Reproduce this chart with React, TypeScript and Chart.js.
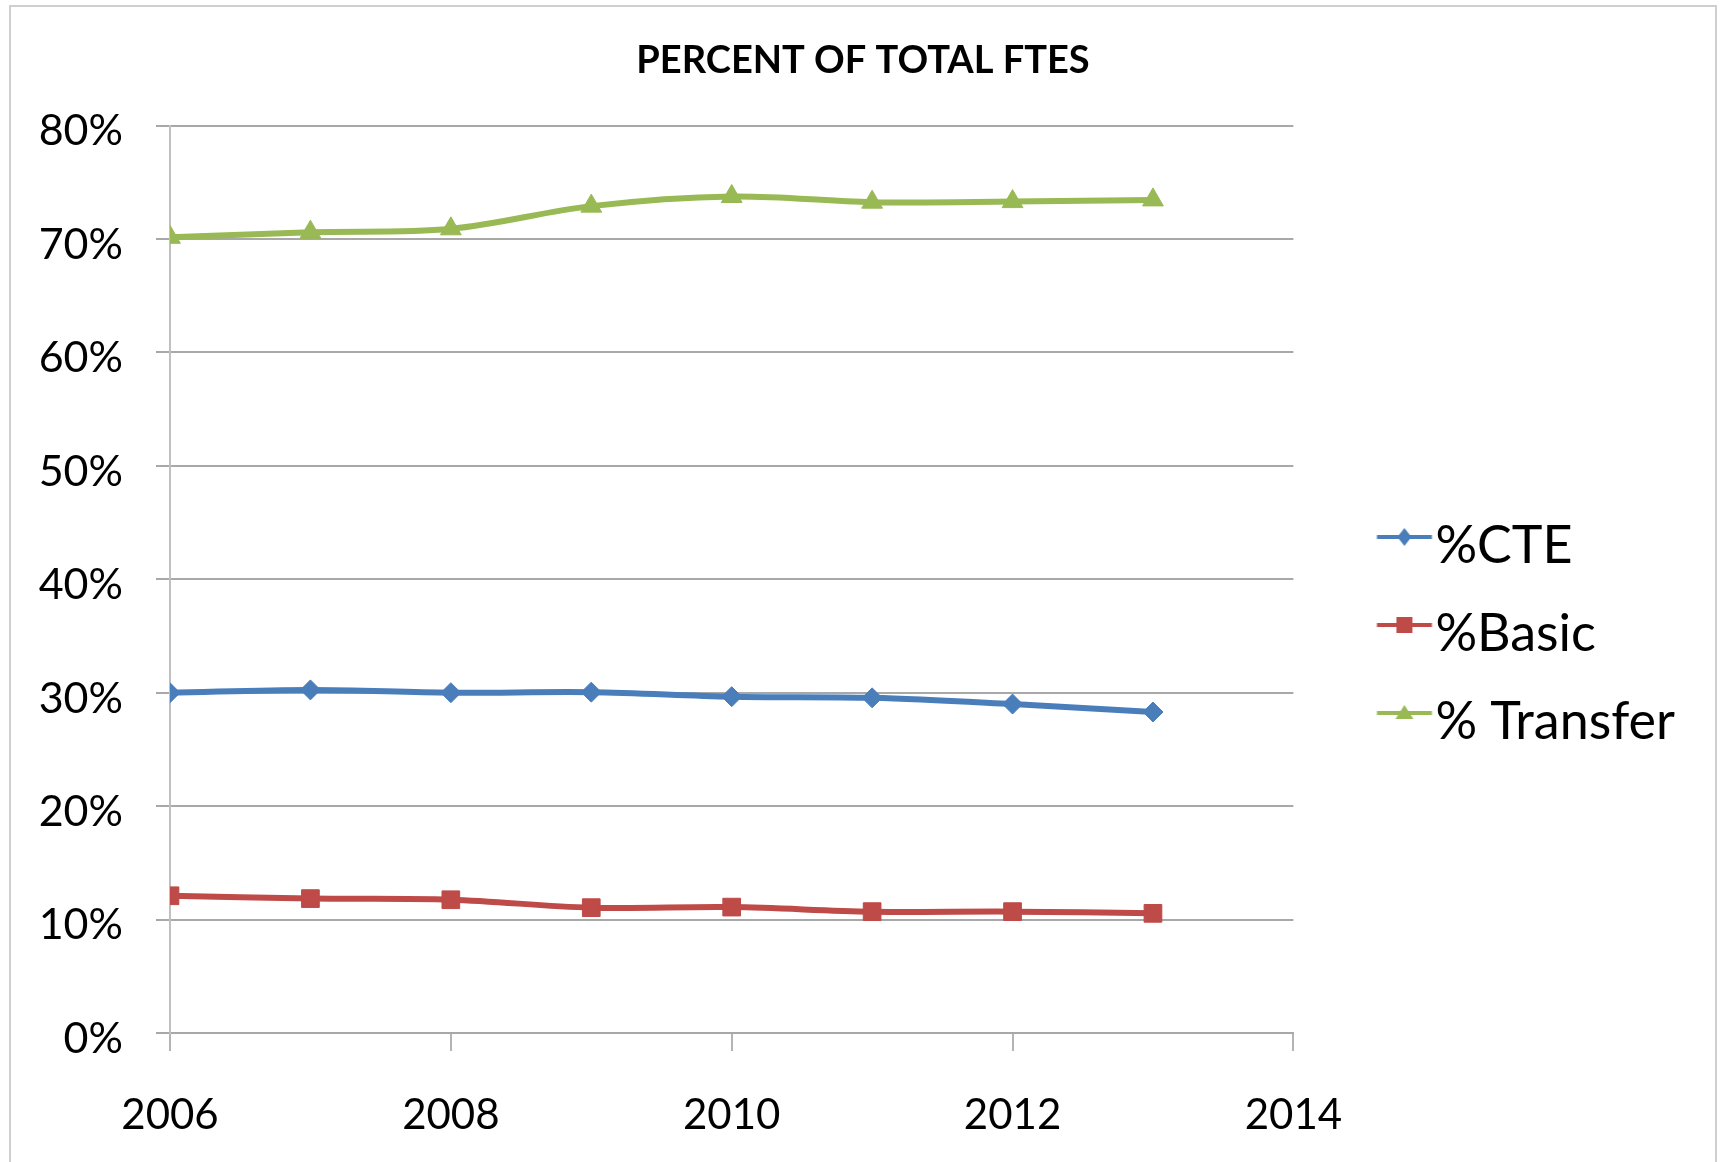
import React, { useEffect, useRef } from 'react';
import { Chart, registerables } from 'chart.js';

Chart.register(...registerables);

const chartTitle = 'PERCENT OF TOTAL FTES';
const years = [2006, 2007, 2008, 2009, 2010, 2011, 2012, 2013];
const cteValues = [30.0, 30.25, 30.0, 30.05, 29.65, 29.55, 29.0, 28.3];
const basicValues = [12.1, 11.85, 11.75, 11.05, 11.1, 10.7, 10.7, 10.55];
const transferValues = [70.15, 70.6, 70.9, 72.9, 73.75, 73.25, 73.3, 73.45];
const seriesLabels = ['%CTE', '%Basic', '% Transfer'];
const xTickValues = [2006, 2008, 2010, 2012, 2014];
const yTickValues = [0, 10, 20, 30, 40, 50, 60, 70, 80];

const BLUE = '#4A7EBB';
const RED = '#BE4B48';
const GREEN = '#98B954';

function drawShape(ctx: CanvasRenderingContext2D, shape: string, x: number, y: number) {
  ctx.beginPath();
  if (shape === 'diamond') {
    ctx.moveTo(x, y - 9);
    ctx.lineTo(x + 7, y);
    ctx.lineTo(x, y + 9);
    ctx.lineTo(x - 7, y);
  } else if (shape === 'square') {
    ctx.rect(x - 8, y - 8, 16, 16);
  } else {
    ctx.moveTo(x, y - 8);
    ctx.lineTo(x + 9, y + 6);
    ctx.lineTo(x - 9, y + 6);
  }
  ctx.closePath();
  ctx.fill();
}

function makeIcon(color: string, shape: string) {
  const c = document.createElement('canvas');
  c.width = 130;
  c.height = 40;
  const ctx = c.getContext('2d')!;
  const cy = 11;
  ctx.strokeStyle = color;
  ctx.lineWidth = 4;
  ctx.beginPath();
  ctx.moveTo(72.5, cy);
  ctx.lineTo(127.5, cy);
  ctx.stroke();
  ctx.fillStyle = color;
  drawShape(ctx, shape, 100, cy);
  return c;
}

const centerTitlePlugin = {
  id: 'centerTitle',
  afterLayout(chart: any) {
    if (chart.titleBlock) {
      chart.titleBlock.left = 0;
      chart.titleBlock.right = chart.width;
    }
  },
};

export default function App() {
  const ref = useRef<HTMLCanvasElement | null>(null);

  useEffect(() => {
    if (!ref.current) return;
    const icons = [makeIcon(BLUE, 'diamond'), makeIcon(RED, 'square'), makeIcon(GREEN, 'triangle')];
    const mk = (vals: number[]) => years.map((y, i) => ({ x: y, y: vals[i] }));
    const common = {
      borderWidth: 6,
      tension: 0.35,
      pointBorderWidth: 1,
      fill: false,
    };
    const chart = new Chart(ref.current, {
      type: 'line',
      data: {
        datasets: [
          { ...common, label: seriesLabels[0], data: mk(cteValues), borderColor: BLUE, backgroundColor: BLUE, pointStyle: 'rectRot', pointRadius: 10 },
          { ...common, label: seriesLabels[1], data: mk(basicValues), borderColor: RED, backgroundColor: RED, pointStyle: 'rect', pointRadius: 12.5 },
          { ...common, label: seriesLabels[2], data: mk(transferValues), borderColor: GREEN, backgroundColor: GREEN, pointStyle: 'triangle', pointRadius: 12 },
        ],
      },
      plugins: [centerTitlePlugin],
      options: {
        responsive: false,
        animation: false,
        devicePixelRatio: 1,
        layout: { padding: { left: 0, right: 30, top: 0, bottom: 0 } },
        font: { family: 'Lato' },
        plugins: {
          title: {
            display: true,
            text: chartTitle,
            color: '#000',
            font: { family: 'Lato', size: 38, weight: 'bold' },
            padding: { top: 31, bottom: 42 },
          },
          legend: {
            position: 'right',
            align: 'center',
            title: { display: true, text: '', font: { size: 10 }, padding: { top: 87, bottom: 0 } },
            labels: {
              usePointStyle: true,
              pointStyleWidth: 80,
              padding: 36,
              color: '#000',
              font: { family: 'Lato', size: 52 },
              generateLabels: (ch: any) => {
                const items = Chart.defaults.plugins.legend.labels.generateLabels(ch);
                return items.map((it: any, i: number) => ({ ...it, pointStyle: icons[i] }));
              },
            },
          },
          tooltip: { enabled: false },
        },
        scales: {
          x: {
            type: 'linear',
            min: 2006,
            max: 2014,
            afterFit: (s: any) => { s.height = 129; },
            afterBuildTicks: (s: any) => { s.ticks = xTickValues.map((v) => ({ value: v })); },
            grid: {
              display: true,
              drawOnChartArea: false,
              drawTicks: true,
              tickLength: 18,
              color: '#b4b4b4',
              lineWidth: 2,
            },
            border: { display: true, color: '#a8a8a8', width: 2 },
            ticks: {
              color: '#000',
              font: { family: 'Lato', size: 42 },
              padding: 39,
              maxRotation: 0,
              autoSkip: false,
              callback: (v: any) => String(v),
            },
          },
          y: {
            min: 0,
            max: 80,
            afterFit: (s: any) => { s.width = 159; },
            afterBuildTicks: (s: any) => { s.ticks = yTickValues.map((v) => ({ value: v })); },
            grid: {
              color: '#a8a8a8',
              lineWidth: 2,
              drawTicks: true,
              tickLength: 14,
            },
            border: { display: true, color: '#c0c0c0', width: 2 },
            ticks: {
              color: '#000',
              font: { family: 'Lato', size: 43 },
              padding: 33,
              labelOffset: 6,
              callback: (v: any) => v + '%',
            },
          },
        },
      },
    } as any);
    return () => chart.destroy();
  }, []);

  return (
    <div
      style={{
        position: 'fixed',
        left: 9,
        top: 5,
        width: 1704,
        height: 1200,
        border: '2px solid #cfcfcf',
        background: '#fff',
      }}
    >
      <canvas ref={ref} width={1704} height={1155} style={{ display: 'block' }} />
    </div>
  );
}
